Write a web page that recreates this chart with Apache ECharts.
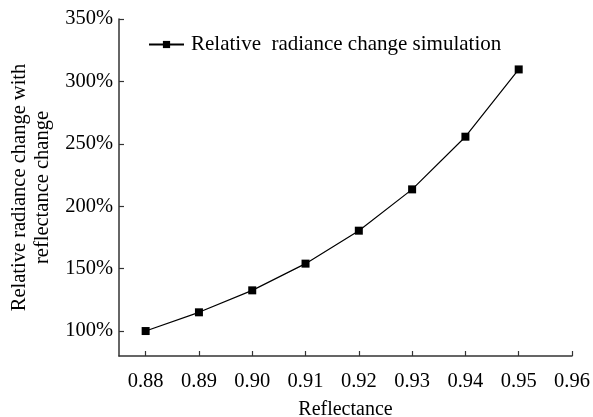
<!DOCTYPE html>
<html><head><meta charset="utf-8">
<script src="https://cdn.jsdelivr.net/npm/echarts@6/dist/echarts.min.js"></script>
<style>html,body{margin:0;padding:0;background:#fff}#c{width:593px;height:417px}</style>
</head><body><div id="c"></div>
<script>
const reflectance = [0.88, 0.89, 0.90, 0.91, 0.92, 0.93, 0.94, 0.95];
const radianceChange = [100.0, 115.0, 132.6, 154.0, 180.4, 213.5, 255.7, 309.6];
const xTicks = [0.88, 0.89, 0.90, 0.91, 0.92, 0.93, 0.94, 0.95, 0.96];
const yTicks = [100, 150, 200, 250, 300, 350];
const seriesName = 'Relative  radiance change simulation';

const font = 'Liberation Serif';
const chart = echarts.init(document.getElementById('c'), null, {renderer: 'canvas'});
chart.setOption({
  animation: false,
  backgroundColor: '#fff',
  grid: {left: 119, right: 21, top: 19, bottom: 61, containLabel: false, outerBoundsMode: 'none'},
  legend: {
    left: 148, top: 34, padding: 0, itemWidth: 35, itemHeight: 9, itemGap: 6,
    textStyle: {fontFamily: font, fontSize: 21, color: '#000', padding: [0, 0, 0, 2]},
    data: [seriesName]
  },
  xAxis: {
    type: 'value', min: 0.875, max: 0.96,
    name: 'Reflectance', nameLocation: 'middle', nameGap: 44,
    nameTextStyle: {fontFamily: font, fontSize: 20, color: '#000'},
    axisLine: {show: true, lineStyle: {color: '#333', width: 1.5}},
    axisTick: {show: true, inside: true, length: 5, customValues: xTicks, lineStyle: {color: '#333', width: 1.2}},
    axisLabel: {customValues: xTicks, fontFamily: font, fontSize: 20.5, color: '#000', margin: 15,
      formatter: v => v.toFixed(2)},
    splitLine: {show: false}
  },
  yAxis: {
    type: 'value', min: 80, max: 350,
    name: 'Relative radiance change with\nreflectance change', nameLocation: 'middle', nameGap: 65, nameRotate: 90,
    nameTextStyle: {fontFamily: font, fontSize: 20.5, color: '#000', lineHeight: 23, align: 'center'},
    axisLine: {show: true, lineStyle: {color: '#333', width: 1.5}},
    axisTick: {show: true, inside: true, length: 5, customValues: yTicks, lineStyle: {color: '#333', width: 1.2}},
    axisLabel: {customValues: yTicks, fontFamily: font, fontSize: 20.5, color: '#000', margin: 6,
      formatter: v => v + '%'},
    splitLine: {show: false}
  },
  series: [{
    name: seriesName, type: 'line',
    data: reflectance.map((x, i) => [x, radianceChange[i]]),
    symbol: 'rect', symbolSize: 8,
    lineStyle: {color: '#000', width: 1.2},
    itemStyle: {color: '#000'}
  }]
});
</script></body></html>
